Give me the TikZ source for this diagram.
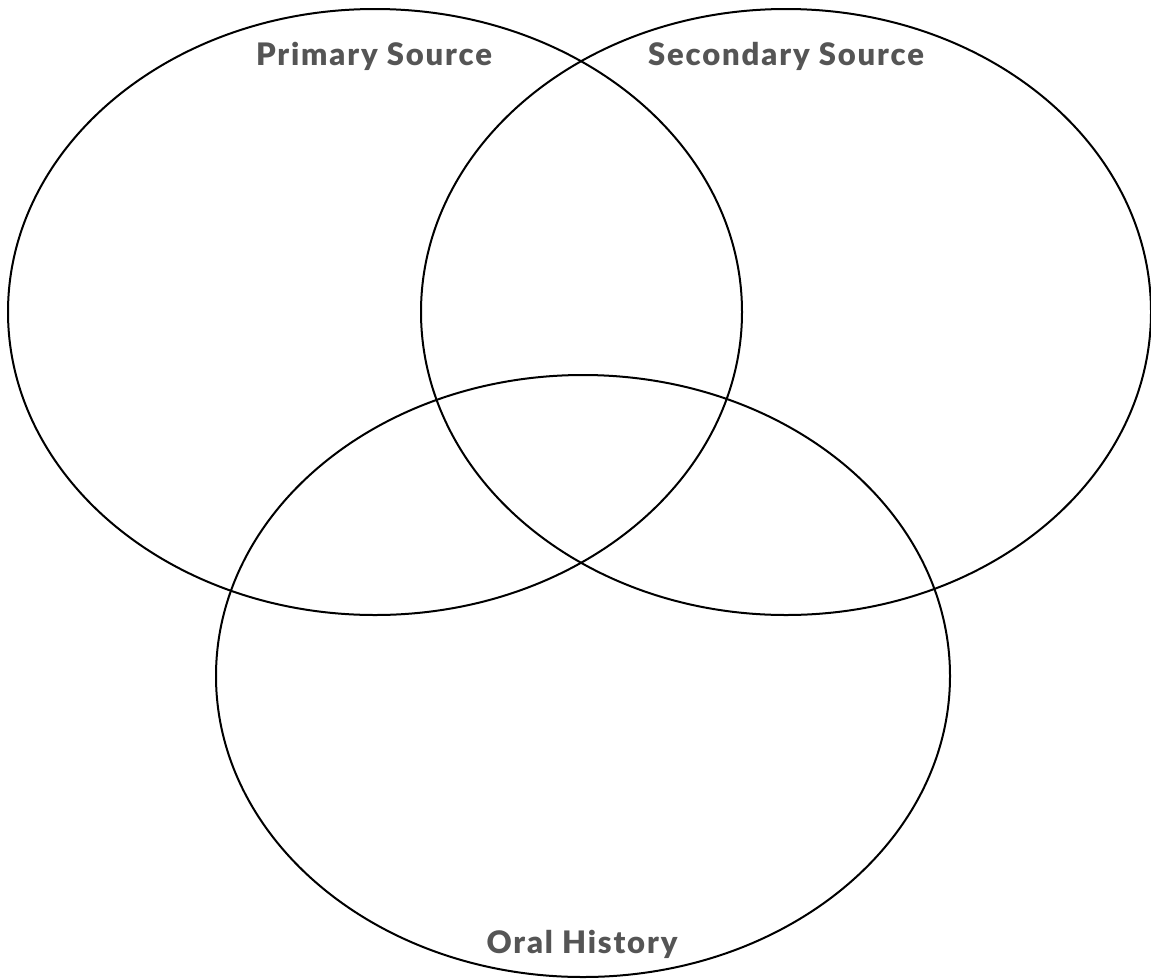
\documentclass[tikz,border=0pt]{standalone}
\usepackage{fontspec}
\newfontfamily\heavyfont{Lato Black}[LetterSpace=6]
\definecolor{labelgray}{HTML}{555555}
\begin{document}
\begin{tikzpicture}[x=1pt,y=-1pt,
  ring/.style={draw=black,line width=2pt},
  setlabel/.style={text=labelgray,font=\heavyfont\fontsize{31}{34}\selectfont,anchor=base,inner sep=0pt}]
\useasboundingbox (0,0) rectangle (1151,978);
% three overlapping sets
\draw[ring] (375,312) ellipse [x radius=367,y radius=303];
\draw[ring] (786,312) ellipse [x radius=365,y radius=303];
\draw[ring] (583,676) ellipse [x radius=367,y radius=301];
% set titles
\node[setlabel] (primary) at (374,65) {Primary Source};
\node[setlabel] (secondary) at (786,65) {Secondary Source};
\node[setlabel] (oral) at (582,953) {Oral History};
\end{tikzpicture}
\end{document}
